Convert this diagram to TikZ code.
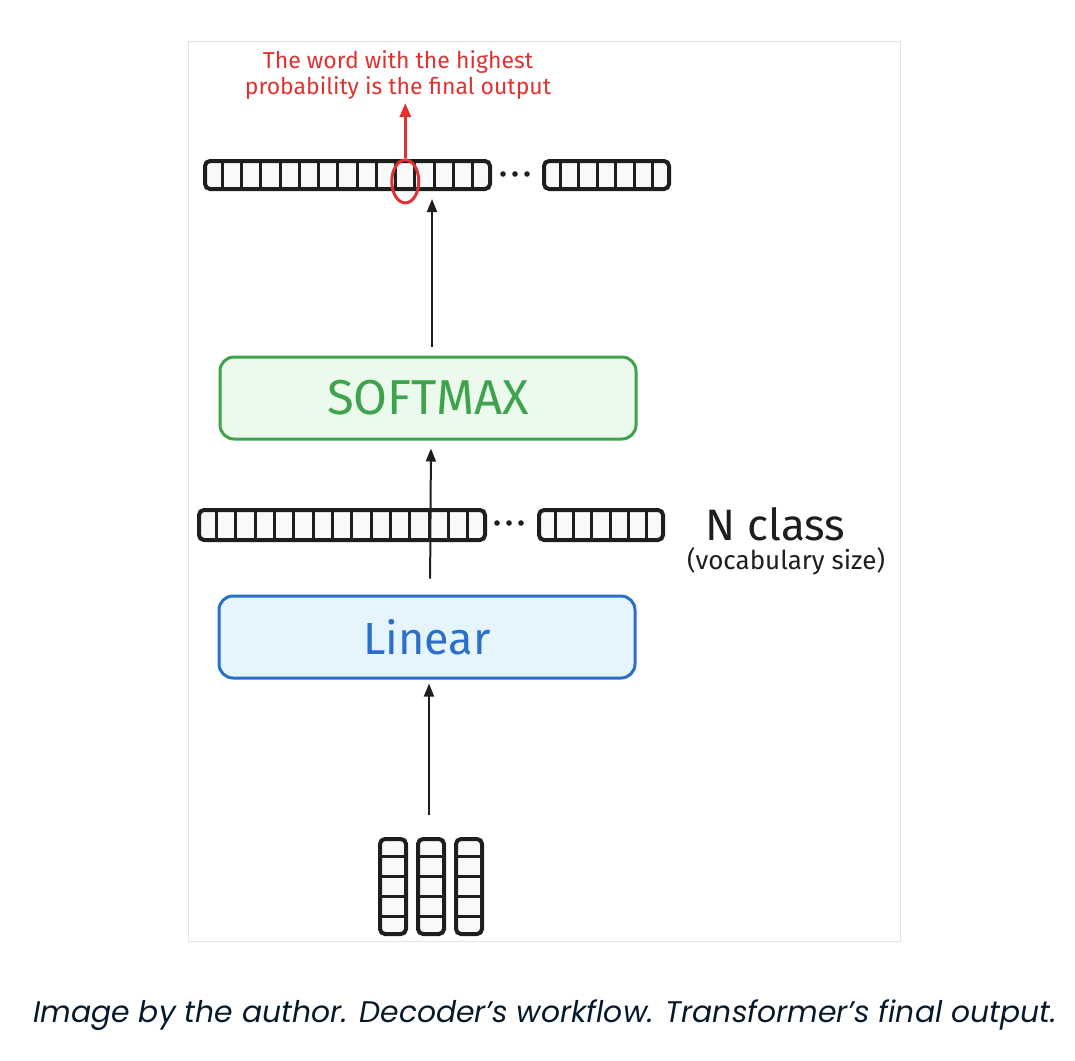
\documentclass[tikz,border=0pt]{standalone}
\usepackage{fontspec}
\setmainfont{Fira Sans}
\newfontfamily\capfont{Poppins}
\usetikzlibrary{arrows.meta,calc,shapes.geometric}
\definecolor{ink}{HTML}{1E1E1E}
\definecolor{cellfill}{HTML}{F8F9FA}
\definecolor{frame}{HTML}{E3E3E3}
\definecolor{redc}{HTML}{E03131}
\definecolor{greens}{HTML}{3FA34D}
\definecolor{greenf}{HTML}{EBFAEC}
\definecolor{blues}{HTML}{2A6FC9}
\definecolor{bluef}{HTML}{E6F4FD}
\definecolor{capc}{HTML}{05192D}
\newcommand\hcells[2]{\pgfmathtruncatemacro\nm{#2-1}\foreach \i in {1,...,\nm}{\draw[cellline] ($(#1.north west)!\i/#2!(#1.north east)$) -- ($(#1.south west)!\i/#2!(#1.south east)$);}}
\newcommand\vcellsdraw[2]{\pgfmathtruncatemacro\nm{#2-1}\foreach \i in {1,...,\nm}{\draw[cellline] ($(#1.north west)!\i/#2!(#1.south west)$) -- ($(#1.north east)!\i/#2!(#1.south east)$);}}
\begin{document}
\begin{tikzpicture}[x=1pt,y=-1pt,
  vecbox/.style={draw=ink, fill=cellfill, line width=4pt, rounded corners=5pt, inner sep=0pt, anchor=north west},
  cellline/.style={draw=ink, line width=3pt},
  blockbox/.style={line width=3pt, rounded corners=14pt, minimum width=416pt, minimum height=82pt, inner sep=0pt},
  flow/.style={draw=ink, line width=2pt, -{Triangle[length=13pt,width=10pt]}},
  redflow/.style={draw=redc, line width=3pt, -{Triangle[length=14pt,width=11pt]}},
  dot/.style={fill=ink}]
\useasboundingbox (0,0) rectangle (1075,1060);
\draw[frame, line width=1pt] (188,41) rectangle (900,941);

% top output vector
\node[vecbox, minimum width=285pt, minimum height=28pt] (topA) at (203,159) {};
\hcells{topA}{15}
\node[vecbox, minimum width=125pt, minimum height=28pt] (topB) at (542,159) {};
\hcells{topB}{7}
\foreach \x in {503,515,527} \fill[dot] (\x,174) circle (2.8pt);

% highlight
\node[draw=redc, line width=3pt, ellipse, minimum width=27pt, minimum height=43pt, inner sep=0pt] (hl) at ($(topA.north west)!10.5/15!(topA.south east)$) {};
\node[text=redc, font=\fontsize{23}{26}\selectfont, align=center, anchor=south] (note) at (398,103) {The word with the highest\\probability is the final output};
\draw[redflow] (hl.north) -- (hl.north |- note.south);

% softmax
\node[blockbox, draw=greens, fill=greenf, text=greens, font=\fontsize{49}{49}\selectfont] (softmax) at (428,398) {SOFTMAX};
% middle vector
\node[vecbox, minimum width=286pt, minimum height=30pt] (midA) at (197,508) {};
\hcells{midA}{15}
\node[vecbox, minimum width=124pt, minimum height=30pt] (midB) at (537,508) {};
\hcells{midB}{7}
\foreach \x in {497,509,521} \fill[dot] (\x,523) circle (2.8pt);
\node[anchor=west, font=\fontsize{44}{44}\selectfont, text=ink] (ncls) at (702,524) {N class};
\node[anchor=center, font=\fontsize{26}{26}\selectfont, text=ink] (vocab) at (786,561) {(vocabulary size)};

% linear
\node[blockbox, draw=blues, fill=bluef, text=blues, font=\fontsize{45}{45}\selectfont] (linear) at (427,637) {Linear};

% input tokens
\foreach \n/\x in {tA/378, tB/416, tC/454}{
  \node[vecbox, minimum width=26pt, minimum height=95pt] (\n) at (\x,837) {};
  \vcellsdraw{\n}{5}
}

% arrows
\draw[flow, shorten <=9pt, shorten >=8pt] ([xshift=4pt]softmax.north) -- ([xshift=4pt]softmax.north |- topA.south);
\draw[flow, shorten <=16pt, shorten >=8pt] ([xshift=3pt]linear.north) -- ([xshift=3pt]softmax.south);
\draw[flow, shorten <=22pt, shorten >=4pt] ([xshift=-2pt]tB.north) -- ([xshift=-2pt]tB.north |- linear.south);

% caption
\node[font={\capfont\itshape\fontsize{29.8}{30}\selectfont}, text=capc] (cap) at (545,1015) {Image by the author. Decoder’s workflow. Transformer’s final output.};
\end{tikzpicture}
\end{document}
